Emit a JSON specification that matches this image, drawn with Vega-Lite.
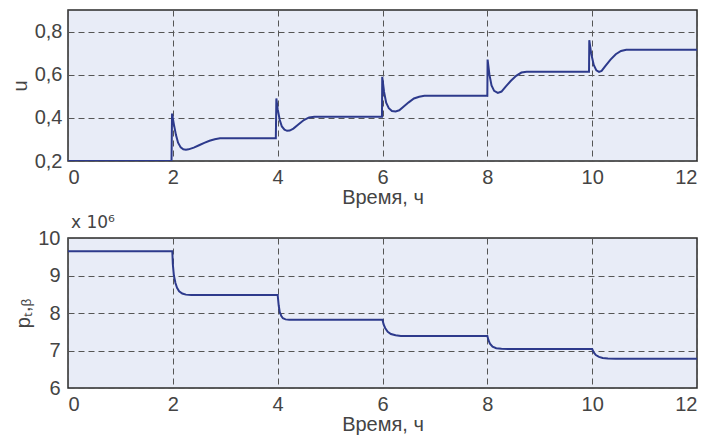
{
  "$schema": "https://vega.github.io/schema/vega-lite/v6.json",
  "bounds": "flush",
  "padding": {"left": 9, "top": 9, "right": 0, "bottom": 0},
  "spacing": 77,
  "background": "white",
  "config": {
    "view": {"fill": "#e8ecf7", "stroke": "#2a2a2a", "strokeWidth": 1.5},
    "axis": {
      "labelFont": "Liberation Sans", "labelFontSize": 20, "labelColor": "#444",
      "titleFont": "Liberation Sans", "titleFontSize": 20, "titleFontWeight": "normal", "titleColor": "#444",
      "tickSize": 0, "domain": false, "grid": true, "gridColor": "#555", "gridDash": [6, 4],
      "gridWidth": 1, "gridOpacity": 1, "labelPadding": 6
    }
  },
  "datasets": {
    "u": [
      {"t": 0, "v": 0.2}, {"t": 1.975, "v": 0.2}, {"t": 1.985, "v": 0.42}, {"t": 2.02, "v": 0.37},
      {"t": 2.06, "v": 0.32}, {"t": 2.1, "v": 0.285}, {"t": 2.15, "v": 0.263}, {"t": 2.2, "v": 0.254},
      {"t": 2.25, "v": 0.252}, {"t": 2.3, "v": 0.254}, {"t": 2.4, "v": 0.262}, {"t": 2.5, "v": 0.273},
      {"t": 2.6, "v": 0.284}, {"t": 2.7, "v": 0.294}, {"t": 2.8, "v": 0.301}, {"t": 2.9, "v": 0.305},
      {"t": 3.0, "v": 0.306}, {"t": 3.965, "v": 0.306}, {"t": 3.975, "v": 0.49}, {"t": 4.0, "v": 0.44},
      {"t": 4.04, "v": 0.39}, {"t": 4.08, "v": 0.36}, {"t": 4.13, "v": 0.345}, {"t": 4.18, "v": 0.34},
      {"t": 4.23, "v": 0.341}, {"t": 4.3, "v": 0.35}, {"t": 4.4, "v": 0.37}, {"t": 4.5, "v": 0.39},
      {"t": 4.6, "v": 0.402}, {"t": 4.7, "v": 0.405}, {"t": 5.99, "v": 0.405}, {"t": 5.995, "v": 0.59},
      {"t": 6.03, "v": 0.52}, {"t": 6.07, "v": 0.47}, {"t": 6.12, "v": 0.445}, {"t": 6.18, "v": 0.432},
      {"t": 6.25, "v": 0.43}, {"t": 6.32, "v": 0.435}, {"t": 6.4, "v": 0.452}, {"t": 6.5, "v": 0.472},
      {"t": 6.6, "v": 0.49}, {"t": 6.7, "v": 0.498}, {"t": 6.8, "v": 0.502}, {"t": 8.0, "v": 0.502},
      {"t": 8.005, "v": 0.67}, {"t": 8.04, "v": 0.6}, {"t": 8.08, "v": 0.55}, {"t": 8.13, "v": 0.525},
      {"t": 8.2, "v": 0.516}, {"t": 8.27, "v": 0.522}, {"t": 8.35, "v": 0.545}, {"t": 8.45, "v": 0.572},
      {"t": 8.55, "v": 0.595}, {"t": 8.65, "v": 0.61}, {"t": 8.75, "v": 0.614}, {"t": 9.94, "v": 0.614},
      {"t": 9.945, "v": 0.76}, {"t": 9.98, "v": 0.7}, {"t": 10.03, "v": 0.645}, {"t": 10.08, "v": 0.62},
      {"t": 10.13, "v": 0.613}, {"t": 10.18, "v": 0.618}, {"t": 10.25, "v": 0.64}, {"t": 10.35, "v": 0.67},
      {"t": 10.45, "v": 0.695}, {"t": 10.55, "v": 0.71}, {"t": 10.65, "v": 0.716}, {"t": 12, "v": 0.716}
    ],
    "p": [
      {"t": 0, "v": 9.65}, {"t": 1.99, "v": 9.65}, {"t": 2.0, "v": 9.3}, {"t": 2.02, "v": 9.0},
      {"t": 2.05, "v": 8.8}, {"t": 2.08, "v": 8.67}, {"t": 2.12, "v": 8.58}, {"t": 2.18, "v": 8.52},
      {"t": 2.25, "v": 8.49}, {"t": 2.35, "v": 8.48}, {"t": 4.0, "v": 8.48}, {"t": 4.02, "v": 8.2},
      {"t": 4.04, "v": 8.02}, {"t": 4.07, "v": 7.92}, {"t": 4.1, "v": 7.86}, {"t": 4.15, "v": 7.83},
      {"t": 4.22, "v": 7.82}, {"t": 6.0, "v": 7.82}, {"t": 6.02, "v": 7.7}, {"t": 6.05, "v": 7.6},
      {"t": 6.1, "v": 7.5}, {"t": 6.16, "v": 7.44}, {"t": 6.25, "v": 7.405}, {"t": 6.35, "v": 7.39},
      {"t": 8.0, "v": 7.39}, {"t": 8.02, "v": 7.28}, {"t": 8.05, "v": 7.18}, {"t": 8.1, "v": 7.1},
      {"t": 8.17, "v": 7.06}, {"t": 8.27, "v": 7.045}, {"t": 8.4, "v": 7.04}, {"t": 10.0, "v": 7.04},
      {"t": 10.03, "v": 6.95}, {"t": 10.07, "v": 6.88}, {"t": 10.13, "v": 6.83}, {"t": 10.2, "v": 6.8},
      {"t": 10.3, "v": 6.785}, {"t": 10.45, "v": 6.78}, {"t": 12, "v": 6.78}
    ]
  },
  "vconcat": [
    {
      "width": 629, "height": 151,
      "data": {"name": "u"},
      "mark": {"type": "line", "color": "#2d3a8c", "strokeWidth": 2, "clip": true},
      "encoding": {
        "x": {"field": "t", "type": "quantitative", "scale": {"domain": [0, 12], "nice": false},
              "axis": {"values": [0, 2, 4, 6, 8, 10, 12], "title": "Время, ч", "labelPadding": 6, "titlePadding": 0}},
        "y": {"field": "v", "type": "quantitative", "scale": {"domain": [0.2, 0.9], "nice": false, "zero": false},
              "axis": {"values": [0.2, 0.4, 0.6, 0.8], "title": "u", "titlePadding": 4,
                       "labelExpr": "replace(format(datum.value, '.1f'), '.', ',')"}}
      }
    },
    {
      "width": 629, "height": 150,
      "data": {"name": "p"},
      "title": {"text": "x 10⁶", "anchor": "start", "frame": "group", "font": "DejaVu Sans", "fontSize": 17,
                "fontWeight": "normal", "color": "#444", "offset": -4, "dx": 3},
      "mark": {"type": "line", "color": "#2d3a8c", "strokeWidth": 2, "clip": true},
      "encoding": {
        "x": {"field": "t", "type": "quantitative", "scale": {"domain": [0, 12], "nice": false},
              "axis": {"values": [0, 2, 4, 6, 8, 10, 12], "title": "Время, ч", "labelPadding": 6, "titlePadding": 0}},
        "y": {"field": "v", "type": "quantitative", "scale": {"domain": [6, 10], "nice": false, "zero": false},
              "axis": {"values": [6, 7, 8, 9, 10], "title": "pₜ,ᵦ", "titlePadding": 4, "labelPadding": 8}}
      }
    }
  ]
}
